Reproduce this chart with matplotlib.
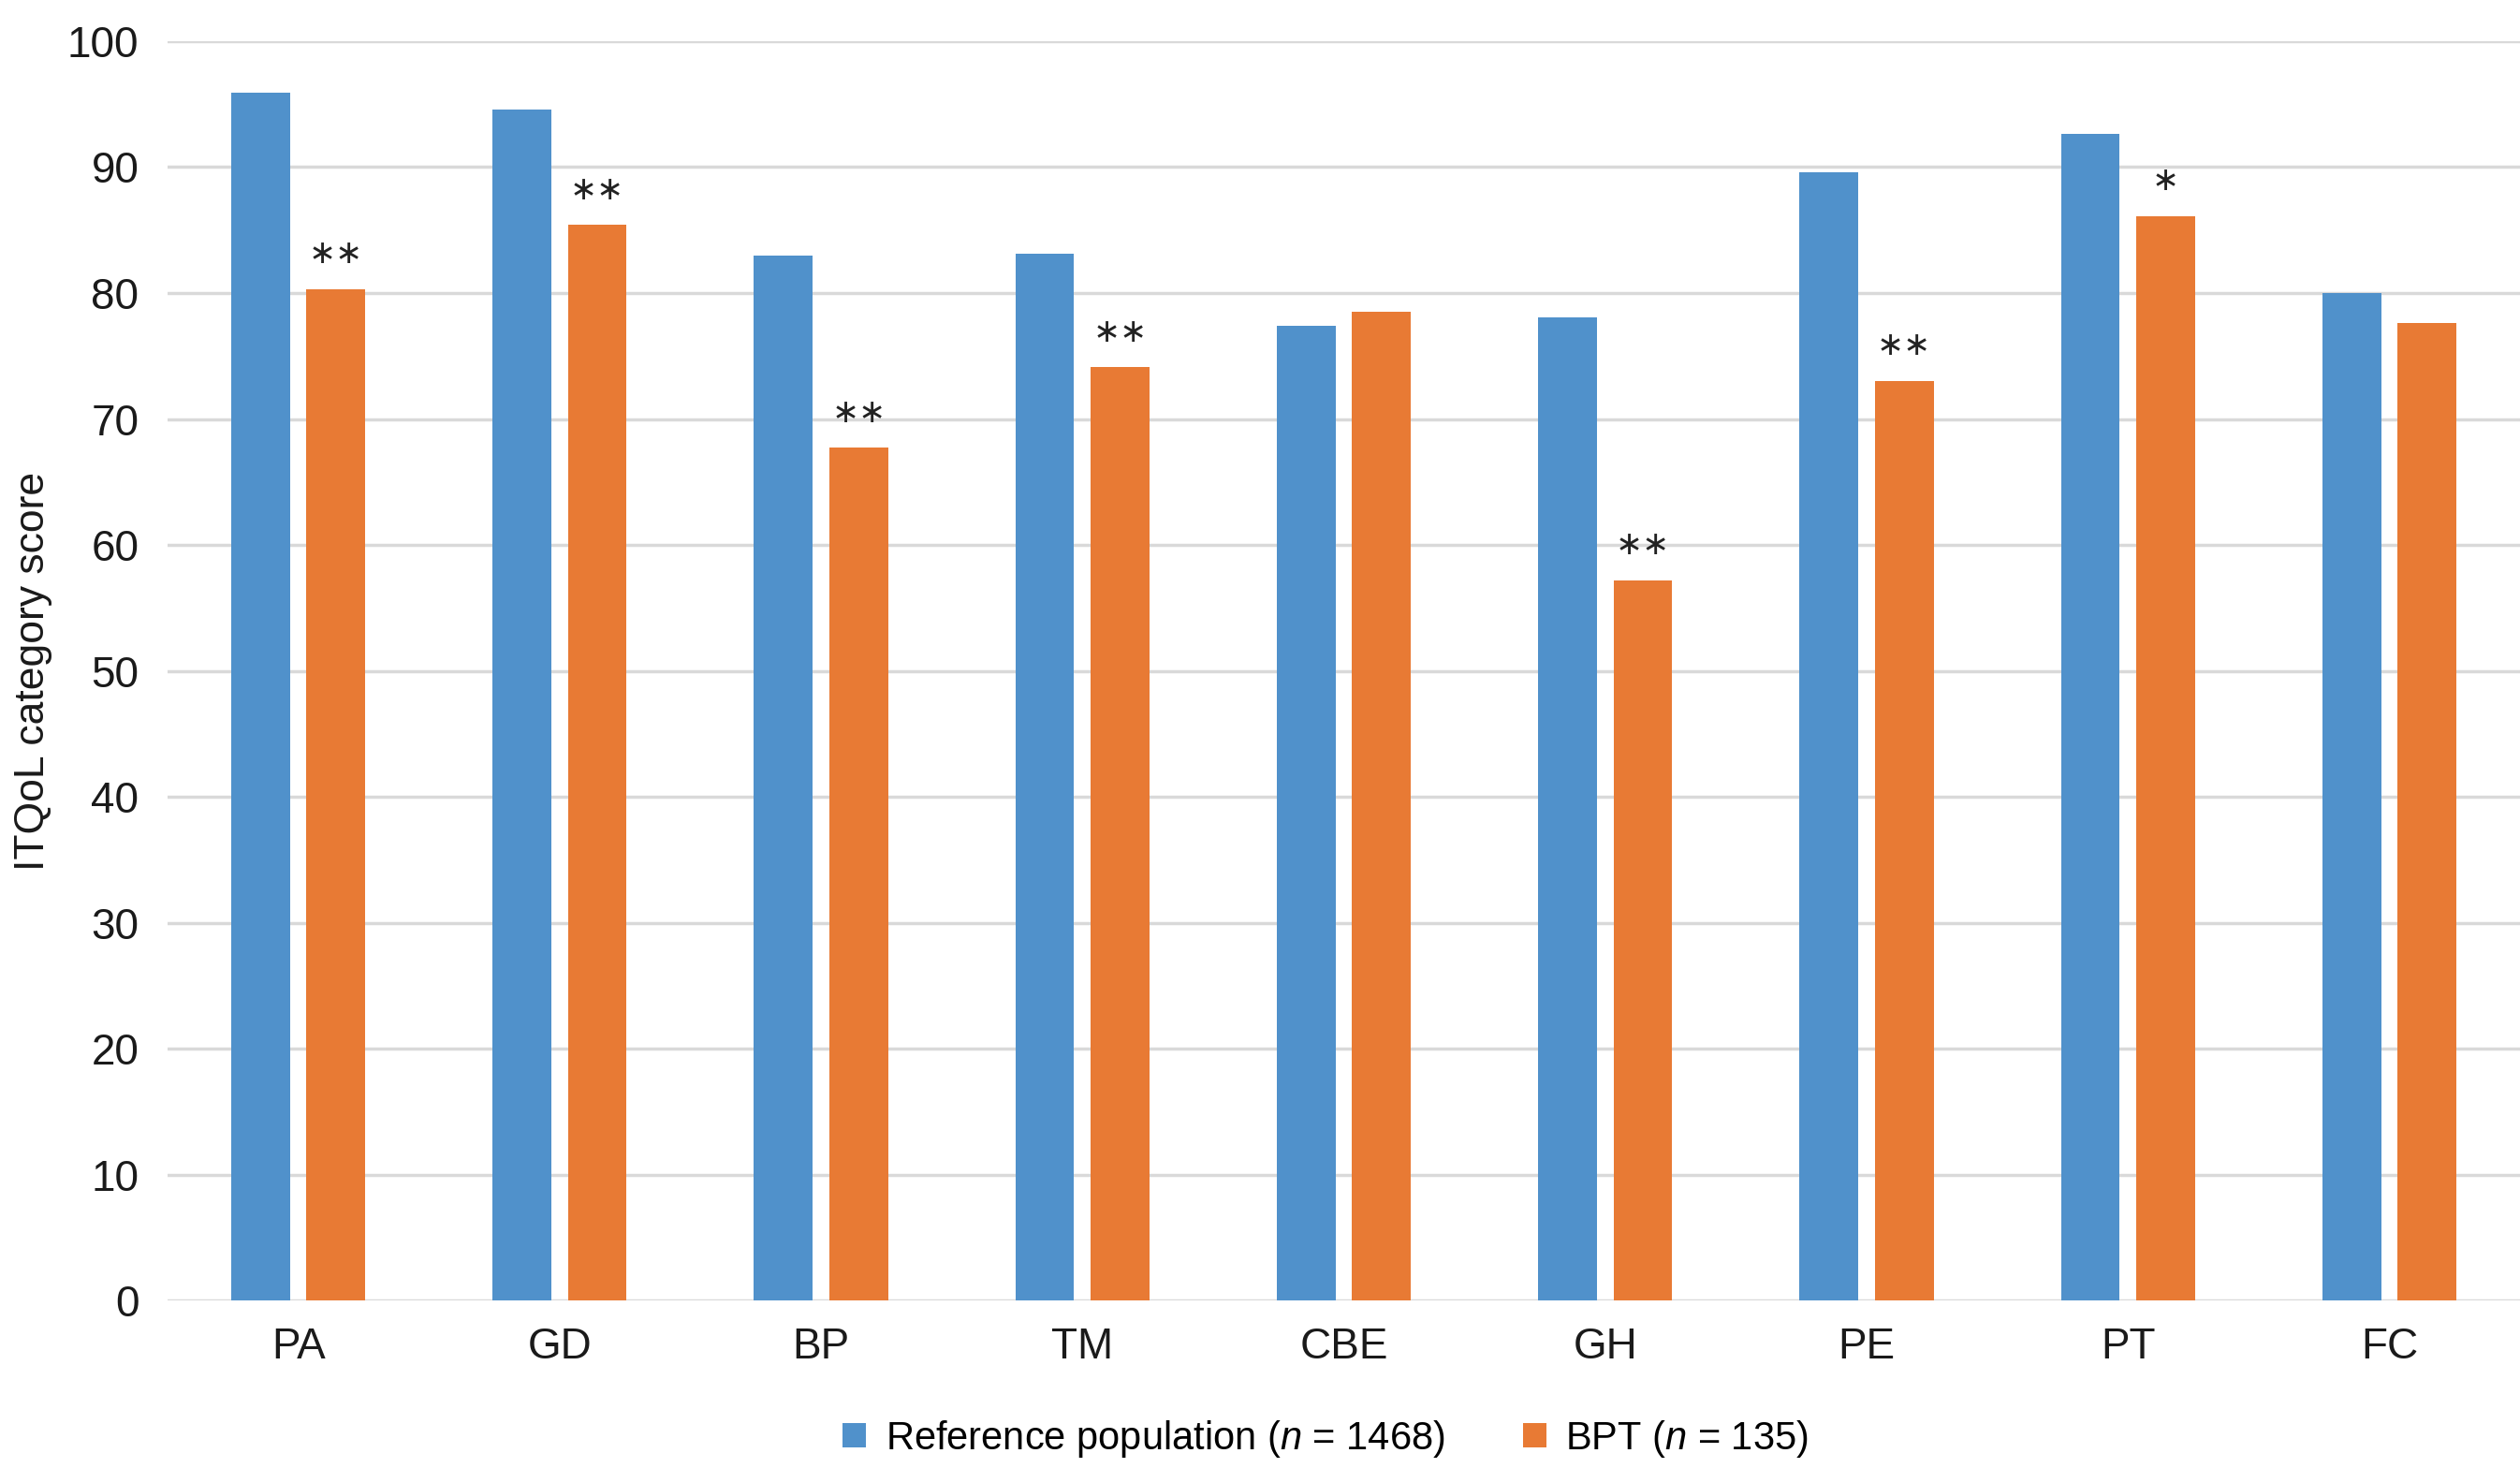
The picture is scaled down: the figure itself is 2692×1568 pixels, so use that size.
import matplotlib
matplotlib.use("Agg")
import matplotlib.pyplot as plt
from matplotlib.patches import Patch
import numpy as np

categories = ["PA", "GD", "BP", "TM", "CBE", "GH", "PE", "PT", "FC"]
reference = [95.9, 94.6, 83.0, 83.1, 77.4, 78.1, 89.6, 92.6, 80.0]
bpt = [80.3, 85.4, 67.7, 74.1, 78.5, 57.2, 73.0, 86.1, 77.6]
significance = ["**", "**", "**", "**", "", "**", "**", "*", ""]
yticks = [0, 10, 20, 30, 40, 50, 60, 70, 80, 90, 100]
series_labels = [r"Reference population ($\mathit{n}$ = 1468)", r"BPT ($\mathit{n}$ = 135)"]

plt.rcParams["font.family"] = ["Liberation Sans", "DejaVu Sans"]
plt.rcParams["mathtext.fontset"] = "custom"
plt.rcParams["mathtext.rm"] = "Liberation Sans"
plt.rcParams["mathtext.it"] = "Liberation Sans:italic"

blue = "#5091cb"
orange = "#e87a34"

fig = plt.figure(figsize=(26.92, 15.68), dpi=100)
ax = fig.add_axes([0.0665, 0.114, 0.9335, 0.858])

x = np.arange(len(categories))
w = 0.225
off = 0.144
ax.bar(x - off, reference, width=w, color=blue, zorder=3)
ax.bar(x + off, bpt, width=w, color=orange, zorder=3)

for xi, v, s in zip(x, bpt, significance):
    if s:
        ax.text(xi + off, v + 2.8, s.replace("*", "\u2217"), ha="center", va="center",
                fontsize=25, color="#222222", zorder=4, family=["DejaVu Sans"])

ax.set_xlim(-0.5, len(categories) - 0.5)
ax.set_ylim(0, 100)
ax.set_yticks(yticks)
ax.set_xticks(x)
ax.set_xticklabels(categories)
ax.tick_params(axis="both", length=0, labelsize=33, colors="#1a1a1a")
ax.tick_params(axis="x", pad=20)
ax.tick_params(axis="y", pad=22)
for sp in ax.spines.values():
    sp.set_visible(False)
ax.grid(axis="y", color="#d9d9d9", linewidth=2.5, zorder=0)
ax.set_axisbelow(True)

ax.set_ylabel("ITQoL category score", fontsize=32, color="#1a1a1a")
ax.yaxis.set_label_coords(-0.049, 0.5)

handles = [Patch(facecolor=blue), Patch(facecolor=orange)]
fig.legend(handles, series_labels, loc="center", bbox_to_anchor=(0.526, 0.02), ncol=2,
           frameon=False, fontsize=30, handlelength=0.6, handleheight=0.6,
           handletextpad=0.5, columnspacing=2.0)

fig.savefig("out.png", dpi=100, facecolor="white")
